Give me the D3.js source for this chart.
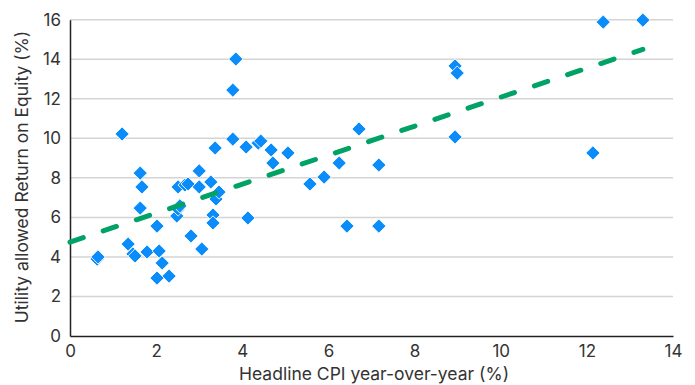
<!DOCTYPE html>
<html>
<head>
<meta charset="utf-8">
<script src="https://cdn.jsdelivr.net/npm/d3@7"></script>
<style>
  body { margin: 0; background: #fff; }
  text { font-family: Inter, "Open Sans", sans-serif; fill: #333; }
</style>
</head>
<body>
<svg id="chart" width="695" height="385"></svg>
<script>
// headline CPI y/y (%) and allowed ROE (%)
var cpi = [0.63, 0.65, 1.21, 1.35, 1.46, 1.51, 1.63, 1.67, 1.63, 1.79, 2.02, 2.07, 2.14, 2.02, 2.30,
  2.48, 2.51, 2.55, 2.51, 2.67, 2.74, 2.81, 3.0, 3.0, 3.06, 3.27, 3.32, 3.32, 3.39, 3.46,
  3.37, 3.78, 3.85, 3.78, 4.09, 4.37, 4.43, 4.67, 4.71, 5.06, 4.13, 5.57, 5.9, 6.25, 6.71,
  7.17, 6.43, 7.17, 8.94, 8.99, 8.94, 12.14, 12.38, 13.3]
var roe = [3.89, 4.0, 10.22, 4.65, 4.15, 4.05, 8.24, 7.54, 6.47, 4.25, 5.56, 4.3, 3.69, 2.93, 3.03,
  6.07, 6.42, 6.58, 7.54, 7.64, 7.69, 5.06, 8.35, 7.54, 4.4, 7.79, 6.12, 5.72, 6.93, 7.28,
  9.51, 9.96, 14.01, 12.44, 9.56, 9.76, 9.86, 9.41, 8.75, 9.26, 5.97, 7.69, 8.04, 8.75, 10.47,
  8.65, 5.56, 5.56, 13.66, 13.3, 10.07, 9.26, 15.88, 15.98]
// trend line end points
var trendX = [0, 13.3]
var trendY = [4.75, 14.5]
var xTicks = [0, 2, 4, 6, 8, 10, 12, 14]
var yTicks = [0, 2, 4, 6, 8, 10, 12, 14, 16]

var svg = d3.select("#chart")
var x = d3.scaleLinear().domain([0, 14]).range([70, 673])
var y = d3.scaleLinear().domain([0, 16]).range([336, 19.7])

// gridlines
svg.selectAll(".grid")
  .data(yTicks.filter(function (d) { return d > 0 }))
  .join("line")
  .attr("class", "grid")
  .attr("x1", x(0)).attr("x2", x(14))
  .attr("y1", function (d) { return y(d) })
  .attr("y2", function (d) { return y(d) })
  .attr("stroke", "#d4d4d4")
  .attr("stroke-width", 1.5)

// axes
var yAxis = svg.append("g").attr("transform", "translate(" + x(0) + ",0)")
  .call(d3.axisLeft(y).tickValues(yTicks).tickSize(0).tickPadding(9))
var xAxis = svg.append("g").attr("transform", "translate(0," + y(0) + ")")
  .call(d3.axisBottom(x).tickValues(xTicks).tickSize(0).tickPadding(9))
yAxis.select(".domain").attr("stroke", "#222").attr("stroke-width", 1.5)
xAxis.select(".domain").attr("stroke", "#222").attr("stroke-width", 1.5)
svg.selectAll(".tick text").attr("font-size", "17px").attr("font-family", "Inter").attr("fill", "#333")

// points
var pts = d3.zip(cpi, roe)
svg.selectAll(".pt")
  .data(pts)
  .join("path")
  .attr("class", "pt")
  .attr("d", d3.symbol().type(d3.symbolSquare).size(100))
  .attr("transform", function (d) { return "translate(" + x(d[0]) + "," + y(d[1]) + ") rotate(45)" })
  .attr("fill", "#0a8cfa")
  .attr("stroke", "#fff")
  .attr("stroke-width", 0.8)

// trend line
svg.append("path")
  .datum(d3.zip(trendX, trendY))
  .attr("d", d3.line().x(function (d) { return x(d[0]) }).y(function (d) { return y(d[1]) }))
  .attr("fill", "none")
  .attr("stroke", "#00a266")
  .attr("stroke-width", 5)
  .attr("stroke-linecap", "round")
  .attr("stroke-dasharray", "14,21")

// axis titles
svg.append("text")
  .attr("x", 374).attr("y", 380)
  .attr("text-anchor", "middle")
  .attr("font-size", "17.5px")
  .text("Headline CPI year-over-year (%)")
svg.append("text")
  .attr("transform", "translate(28,177) rotate(-90)")
  .attr("text-anchor", "middle")
  .attr("font-size", "17.5px")
  .text("Utility allowed Return on Equity (%)")
</script>
</body>
</html>
